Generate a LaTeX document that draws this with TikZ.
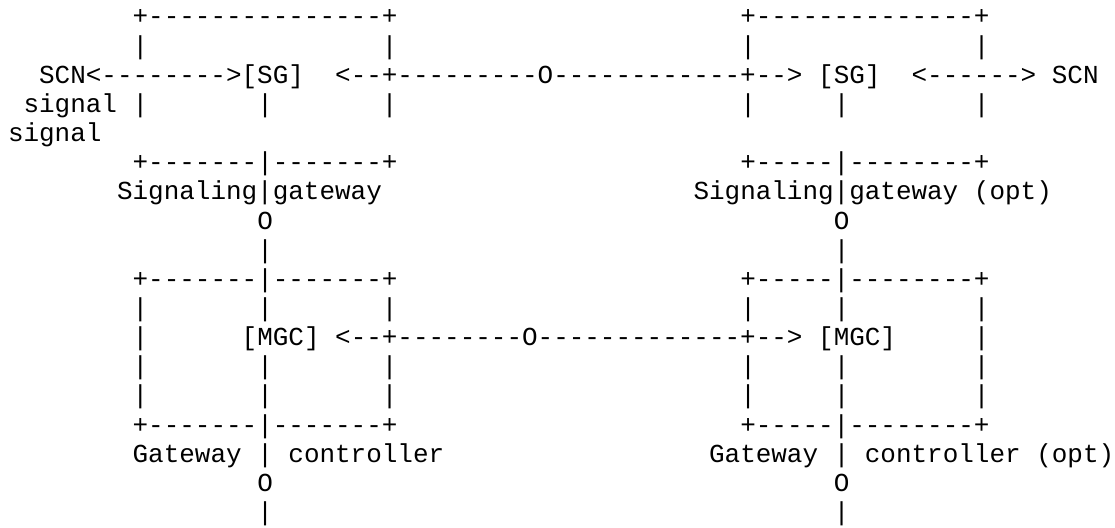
\documentclass[tikz,border=0pt]{standalone}
\usepackage{fontspec}
\setmonofont{Liberation Mono}
\newlength\cellw
\setlength\cellw{15.58pt}
\ExplSyntaxOn
\cs_new_protected:Npn \asc_cells:n #1
  { \str_map_inline:nn {#1} { \makebox[\cellw][c]{##1} } }
\NewDocumentCommand \cells { m } { \asc_cells:n {#1} }
\ExplSyntaxOff
\newcommand\asciifont{\ttfamily\fontsize{25.96pt}{29pt}\selectfont}
\newcommand\seg[4]{\node[asc] (#1) at (#2,#3) {\cells{#4}};}
\tikzset{asc/.style={anchor=base west, inner sep=0pt, outer sep=0pt, font=\asciifont, text=black}}
\begin{document}
\begin{tikzpicture}[x=15.58pt, y=-29.15pt]
\fill[white] (0pt,0pt) rectangle (1115pt,-527pt);
\useasboundingbox (0pt,0pt) rectangle (1115pt,-527pt);
\begin{scope}[shift={(8pt,4.15pt)}]
% row 1
\seg{topL}{8}{1}{+---------------+}
\seg{topR}{47}{1}{+--------------+}
% row 2
\seg{r2a}{8}{2}{|}
\seg{r2b}{24}{2}{|}
\seg{r2c}{47}{2}{|}
\seg{r2d}{62}{2}{|}
% row 3
\seg{scnL}{2}{3}{SCN<-------->[SG]}
\seg{busSG}{21}{3}{<--+---------O------------+-->}
\seg{sgR}{52}{3}{[SG]}
\seg{arrR}{58}{3}{<------>}
\seg{scnR}{67}{3}{SCN}
% row 4
\seg{sigA}{1}{4}{signal}
\foreach \c [count=\i] in {8,16,24,47,53,62} {\seg{r4p\i}{\c}{4}{|}}
% row 5
\seg{sigB}{0}{5}{signal}
% box edges
\foreach \r in {6,10,15} {
  \seg{edgeL\r}{8}{\r}{+-------|-------+}
  \seg{edgeR\r}{47}{\r}{+-----|--------+}
}
% row 7
\seg{sgLabL}{7}{7}{Signaling|gateway}
\seg{sgLabR}{44}{7}{Signaling|gateway}
\seg{optA}{62}{7}{(opt)}
% rows 8, 17: O ; rows 9, 18: |
\foreach \r in {8,17} {
  \seg{oL\r}{16}{\r}{O}
  \seg{oR\r}{53}{\r}{O}
}
\foreach \r in {9,18} {
  \seg{vL\r}{16}{\r}{|}
  \seg{vR\r}{53}{\r}{|}
}
% rows 11, 13, 14
\foreach \r in {11,13,14} {
  \foreach \c [count=\i] in {8,16,24,47,53,62} {\seg{p\r x\i}{\c}{\r}{|}}
}
% row 12
\seg{r12a}{8}{12}{|}
\seg{mgcL}{15}{12}{[MGC]}
\seg{busMGC}{21}{12}{<--+--------O-------------+-->}
\seg{mgcR}{52}{12}{[MGC]}
\seg{r12b}{62}{12}{|}
% row 16
\seg{gwL}{8}{16}{Gateway}
\seg{gwLbar}{16}{16}{|}
\seg{ctlL}{18}{16}{controller}
\seg{gwR}{45}{16}{Gateway}
\seg{gwRbar}{53}{16}{|}
\seg{ctlR}{55}{16}{controller}
\seg{optB}{66}{16}{(opt)}
\end{scope}
\end{tikzpicture}
\end{document}
